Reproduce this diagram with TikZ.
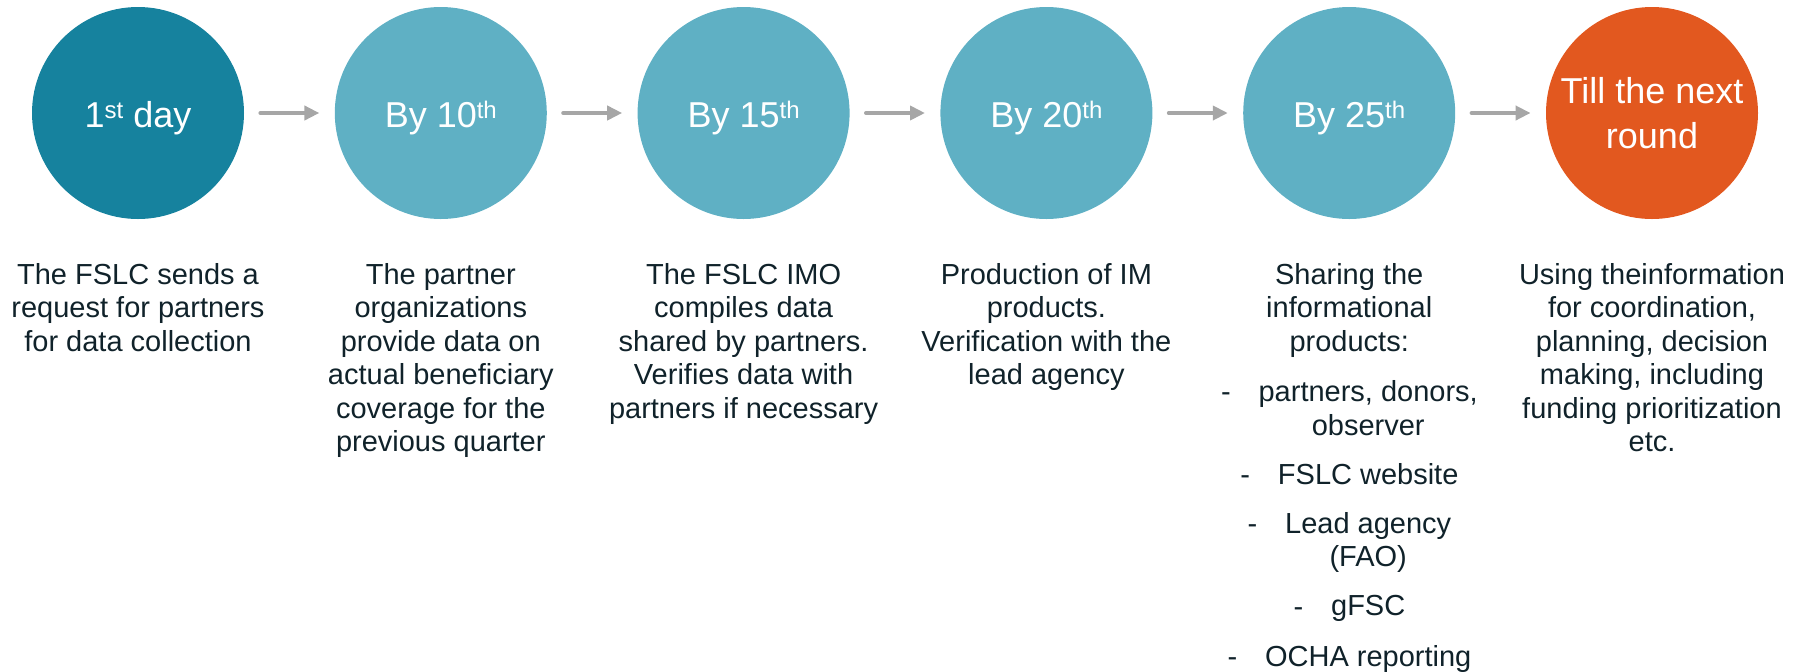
\documentclass[tikz,border=0pt]{standalone}
\usepackage{fontspec}
\setmainfont{Liberation Sans}
\usetikzlibrary{positioning,arrows.meta}
\definecolor{firstcol}{HTML}{16829E}
\definecolor{stepcol}{HTML}{5FB0C4}
\definecolor{lastcol}{HTML}{E2581F}
\definecolor{arrowcol}{HTML}{A6A6A6}
\definecolor{textcol}{HTML}{10222A}
\newcommand{\ordsup}[1]{\raisebox{4.3pt}{\fontsize{12}{12}\selectfont #1}}
\begin{document}
\begin{tikzpicture}[node distance=45pt,
    main node/.style={circle,fill=stepcol,minimum size=106pt,inner sep=0pt,text=white,align=center,font=\fontsize{18}{22.5}\selectfont},
    day node/.style={main node,text height=14pt,text depth=0pt},
    body/.style={align=center,text=textcol,inner sep=0pt,font=\fontsize{14.5}{16.75}\selectfont},
    link/.style={-{Triangle[length=7.5pt,width=7pt]},line width=2pt,draw=arrowcol,line cap=round,shorten <=8pt,shorten >=7.5pt}]
    \useasboundingbox (0,0) rectangle (900pt,-335.5pt);

    \node[day node,fill=firstcol] (day1) at (69pt,-56.5pt) {1\ordsup{st} day};
    \node[day node] (by10) [right=of day1] {By 10\ordsup{th}};
    \node[day node] (by15) [right=of by10] {By 15\ordsup{th}};
    \node[day node] (by20) [right=of by15] {By 20\ordsup{th}};
    \node[day node] (by25) [right=of by20] {By 25\ordsup{th}};
    \node[main node,fill=lastcol] (next) [right=of by25] {Till the next\\round};

    \path (day1) edge[link] (by10)
          (by10) edge[link] (by15)
          (by15) edge[link] (by20)
          (by20) edge[link] (by25)
          (by25) edge[link] (next);

    % texts under the circles
    \node[body] (text1) [below=75pt of day1.center] {The FSLC sends a\\request for partners\\for data collection};
    \node[body] (text2) [below=75pt of by10.center] {The partner\\organizations\\provide data on\\actual beneficiary\\coverage for the\\previous quarter};
    \node[body] (text3) [below=75pt of by15.center] {The FSLC IMO\\compiles data\\shared by partners.\\Verifies data with\\partners if necessary};
    \node[body] (text4) [below=75pt of by20.center] {Production of IM\\products.\\Verification with the\\lead agency};
    \node[body] (text5) [below=75pt of by25.center] {Sharing the\\informational\\products:};
    \node[body] (text6) [below=75pt of next.center] {Using theinformation\\for coordination,\\planning, decision\\making, including\\funding prioritization\\etc.};

    % list of products
    \node[body] (item1) [below=58.7pt of text5.north,xshift=9.5pt] {partners, donors,\\observer};
    \node[body] (item2) [below=41.3pt of item1.north] {FSLC website};
    \node[body] (item3) [below=24.5pt of item2.north] {Lead agency\\(FAO)};
    \node[body] (item4) [below=41.5pt of item3.north] {gFSC};
    \node[body] (item5) [below=25pt of item4.north] {OCHA reporting};
    \foreach \i in {1,...,5}
        \node[body,text height=10.4pt,anchor=north east] (dash\i) at ([xshift=-13.5pt]item\i.north west) {-};
\end{tikzpicture}
\end{document}
